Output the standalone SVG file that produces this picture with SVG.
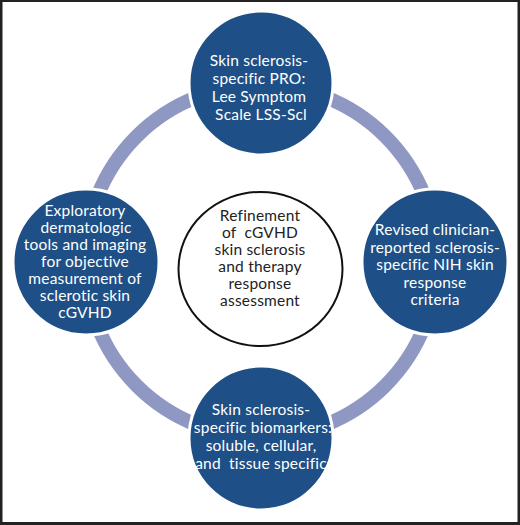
<svg xmlns="http://www.w3.org/2000/svg" width="520" height="525" viewBox="0 0 520 525">
<style>
.node{fill:#1e4f86;stroke:#ffffff;stroke-width:3}
.t{font-family:Lato,"Open Sans",sans-serif;font-size:15.5px;letter-spacing:0.2px;fill:#ffffff;text-anchor:middle;white-space:pre}
.c{font-family:Lato,"Open Sans",sans-serif;font-size:15.5px;letter-spacing:0.2px;fill:#222222;text-anchor:middle;white-space:pre}
</style>
<rect x="0" y="0" width="520" height="525" fill="#ffffff"/>
<rect x="1" y="0.5" width="518" height="523" fill="none" stroke="#222222" stroke-width="3"/>
<g id="connectors">
<circle cx="261" cy="261" r="176" fill="none" stroke="#8f98c2" stroke-width="14"/>
</g>
<g id="center">
<ellipse cx="260.5" cy="269" rx="82" ry="77" fill="#ffffff" stroke="#111111" stroke-width="2"/>
<text class="c" x="260" y="221">Refinement</text>
<text class="c" x="260" y="238" xml:space="preserve">of  cGVHD</text>
<text class="c" x="260" y="255">skin sclerosis</text>
<text class="c" x="260" y="272">and therapy</text>
<text class="c" x="260" y="289">response</text>
<text class="c" x="260" y="306">assessment</text>
</g>
<g id="top">
<circle class="node" cx="261" cy="83" r="72"/>
<text class="t" x="259" y="66">Skin sclerosis-</text>
<text class="t" x="259" y="84">specific PRO:</text>
<text class="t" x="259" y="102">Lee Symptom</text>
<text class="t" x="261" y="120">Scale LSS-Scl</text>
</g>
<g id="left">
<circle class="node" cx="86" cy="262" r="73"/>
<text class="t" x="85" y="216">Exploratory</text>
<text class="t" x="86" y="233">dermatologic</text>
<text class="t" x="85" y="250">tools and imaging</text>
<text class="t" x="85" y="267">for objective</text>
<text class="t" x="85" y="284">measurement of</text>
<text class="t" x="85" y="301">sclerotic skin</text>
<text class="t" x="85" y="318">cGVHD</text>
</g>
<g id="right">
<circle class="node" cx="435" cy="262" r="73"/>
<text class="t" x="435" y="235">Revised clinician-</text>
<text class="t" x="435" y="253">reported sclerosis-</text>
<text class="t" x="435" y="270">specific NIH skin</text>
<text class="t" x="435" y="288">response</text>
<text class="t" x="435" y="305">criteria</text>
</g>
<g id="bottom">
<circle class="node" cx="261" cy="438" r="72"/>
<text class="t" x="261" y="415">Skin sclerosis-</text>
<text class="t" x="263" y="433">specific biomarkers:</text>
<text class="t" x="261" y="451">soluble, cellular,</text>
<text class="t" x="261" y="469" xml:space="preserve">and  tissue specific</text>
</g>
</svg>
